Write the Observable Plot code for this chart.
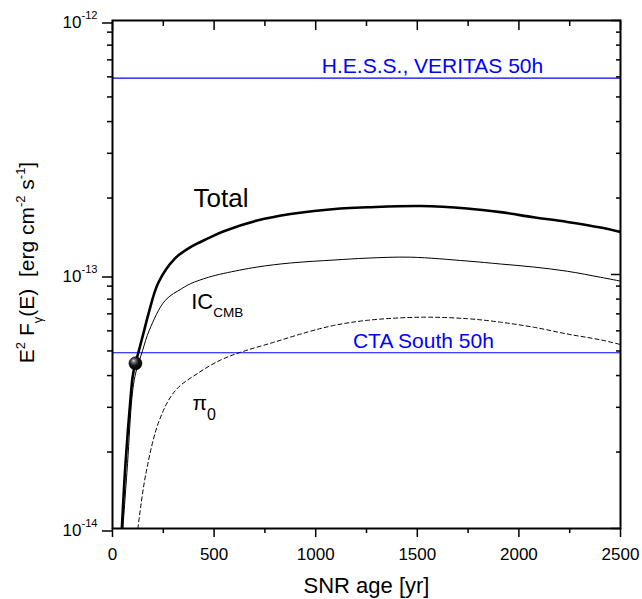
<!DOCTYPE html>
<html>
<head>
<meta charset="utf-8">
<script src="https://cdn.jsdelivr.net/npm/d3@7"></script>
<script src="https://cdn.jsdelivr.net/npm/@observablehq/plot@0.6"></script>
<style>
  html, body { margin: 0; padding: 0; background: #fff; }
  svg text { white-space: pre; }
</style>
</head>
<body>
<div id="chart"></div>
<script>
// ---- data ----
const ageTotal = [46, 64, 88, 100, 113, 130, 156, 177, 226, 309, 390, 472, 548, 712, 876, 1122, 1255, 1516, 1745, 1909, 2073, 2238, 2402, 2500];
const valTotal = [1.0e-14, 1.8e-14, 3.2e-14, 4.0e-14, 4.47e-14, 5.02e-14, 6.03e-14, 7.0e-14, 9.3e-14, 1.16e-13, 1.29e-13, 1.39e-13, 1.48e-13, 1.63e-13, 1.73e-13, 1.82e-13, 1.84e-13, 1.86e-13, 1.82e-13, 1.76e-13, 1.68e-13, 1.61e-13, 1.53e-13, 1.47e-13];

const ageIC = [51, 74, 96, 113, 148, 181, 259, 341, 384, 472, 548, 712, 876, 1089, 1253, 1467, 1745, 1909, 2073, 2238, 2402, 2500];
const valIC = [1.0e-14, 1.8e-14, 3.29e-14, 4.06e-14, 5.02e-14, 6.03e-14, 7.9e-14, 8.8e-14, 9.2e-14, 9.75e-14, 1.01e-13, 1.07e-13, 1.11e-13, 1.14e-13, 1.16e-13, 1.17e-13, 1.13e-13, 1.10e-13, 1.07e-13, 1.03e-13, 9.75e-14, 9.42e-14];

const agePi = [125, 164, 230, 309, 423, 531, 630, 794, 958, 1089, 1253, 1516, 1745, 1909, 2073, 2238, 2402, 2500];
const valPi = [1.0e-14, 1.64e-14, 2.66e-14, 3.49e-14, 4.1e-14, 4.6e-14, 4.94e-14, 5.41e-14, 5.93e-14, 6.3e-14, 6.6e-14, 6.79e-14, 6.7e-14, 6.49e-14, 6.2e-14, 5.83e-14, 5.53e-14, 5.3e-14];

const sensitivityNames = ["H.E.S.S., VERITAS 50h", "CTA South 50h"];
const sensitivityLevels = [5.93e-13, 4.92e-14];
const sensitivityLabelAge = [1575, 1530];

const markerAge = [113];
const markerVal = [4.47e-14];

const curveLabels = ["Total", "IC_{CMB}", "π_{0}"];
const curveLabelAge = [534, 387, 394];
const curveLabelVal = [1.84e-13, 7.33e-14, 2.92e-14];

const xLabel = "SNR age [yr]";
const yLabel = "E^{2} F_{γ}(E)  [erg cm^{-2} s^{-1}]";

const xMajor = [0, 500, 1000, 1500, 2000, 2500];
const xMinor = [250, 750, 1250, 1750, 2250];
const yMajor = [1e-14, 1e-13, 1e-12];
const yMinor = [2e-14, 3e-14, 4e-14, 5e-14, 6e-14, 7e-14, 8e-14, 9e-14,
                2e-13, 3e-13, 4e-13, 5e-13, 6e-13, 7e-13, 8e-13, 9e-13];

// ---- tables ----
const rows = (a, v) => a.map((d, i) => ({age: d, flux: v[i]}));
const total = rows(ageTotal, valTotal);
const ic = rows(ageIC, valIC);
const pi0 = rows(agePi, valPi);
const marker = rows(markerAge, markerVal);
const sens = sensitivityNames.map((n, i) => ({name: n, flux: sensitivityLevels[i], age: sensitivityLabelAge[i]}));
const lab = curveLabels.map((n, i) => ({name: n, age: curveLabelAge[i], flux: curveLabelVal[i]}));

const blue = "#0000ff";

const chart = Plot.plot({
  width: 642,
  height: 599,
  marginLeft: 112,
  marginRight: 22,
  marginTop: 20,
  marginBottom: 71,
  style: {fontFamily: "'Liberation Sans', Arial, sans-serif", fontSize: "17px", color: "black", background: "white", overflow: "visible"},
  x: {domain: [0, 2500]},
  y: {type: "log", domain: [1e-14, 1e-12]},
  marks: [
    Plot.ruleY(sens, {y: "flux", stroke: blue, strokeWidth: 1.2}),
    Plot.line(ic, {x: "age", y: "flux", stroke: "black", strokeWidth: 1, curve: "catmull-rom", clip: true}),
    Plot.line(pi0, {x: "age", y: "flux", stroke: "black", strokeWidth: 1, strokeDasharray: "4,3", curve: "catmull-rom", clip: true}),
    Plot.line(total, {x: "age", y: "flux", stroke: "black", strokeWidth: 2.6, curve: "catmull-rom", clip: true}),
    Plot.dot(marker, {x: "age", y: "flux", r: 6.5, fill: "url(#ballGrad)", stroke: "#000", strokeWidth: 0.6}),
    Plot.text(sens, {x: "age", y: "flux", text: "name", fill: blue, fontSize: 21, dy: -5, lineAnchor: "bottom", textAnchor: "middle"}),
    Plot.text(lab.slice(0, 1), {x: "age", y: "flux", text: "name", fontSize: 26, lineAnchor: "bottom", textAnchor: "middle"}),
    Plot.text(lab.slice(1, 2), {x: "age", y: "flux", text: "name", fontSize: 22, lineAnchor: "bottom", textAnchor: "start"}),
    Plot.text(lab.slice(2, 3), {x: "age", y: "flux", text: "name", fontSize: 21, lineAnchor: "bottom", textAnchor: "start"}),
    // axes
    Plot.axisX({anchor: "bottom", ticks: xMajor, tickSize: 9, tickPadding: 10, strokeWidth: 1.5, tickFormat: d => String(d), label: null}),
    Plot.axisX({anchor: "bottom", ticks: xMinor, tickSize: 5, strokeWidth: 1.5, fill: "none", label: null}),
    Plot.axisX({anchor: "top", ticks: xMajor, tickSize: -9, strokeWidth: 1.5, fill: "none", label: null}),
    Plot.axisX({anchor: "top", ticks: xMinor, tickSize: -5, strokeWidth: 1.5, fill: "none", label: null}),
    Plot.axisY({anchor: "left", ticks: yMajor, tickSize: 10, tickPadding: 5, strokeWidth: 1.5, dy: 2.5,
                tickFormat: d => `10^{${Math.round(Math.log10(d))}}`, label: null}),
    Plot.axisY({anchor: "left", ticks: yMinor, tickSize: 5, strokeWidth: 1.5, fill: "none", label: null}),
    Plot.axisY({anchor: "right", ticks: yMajor, tickSize: -10, strokeWidth: 1.5, fill: "none", label: null}),
    Plot.axisY({anchor: "right", ticks: yMinor, tickSize: -5, strokeWidth: 1.5, fill: "none", label: null}),
    Plot.frame({stroke: "black", strokeWidth: 2}),
    // axis titles
    Plot.text([xLabel], {frameAnchor: "bottom", dy: 64, lineAnchor: "bottom", textAnchor: "middle", fontSize: 22}),
    Plot.text([yLabel], {frameAnchor: "left", rotate: -90, dx: -85, dy: -12, lineAnchor: "middle", textAnchor: "middle", fontSize: 21})
  ]
});

document.getElementById("chart").appendChild(chart);

// tick label size
chart.querySelectorAll('g[aria-label="x-axis tick label"], g[aria-label="y-axis tick label"]').forEach(g => {
  g.setAttribute("font-size", "17");
  g.style.fontSize = "17px";
  g.querySelectorAll("text").forEach(t => { t.style.fontSize = "17px"; });
});

// ---- rich text: ^{..} superscripts and _{..} subscripts ----
function richText(el) {
  const str = el.textContent;
  if (!/[\^_]\{/.test(str)) return;
  const fs = parseFloat(getComputedStyle(el).fontSize) || 17;
  const isTick = /^10\^\{/.test(str);
  const isPi = /^π_/.test(str);
  const supShift = isTick ? -0.55 * fs : -0.42 * fs;
  const subShift = isPi ? 0.48 * fs : 0.36 * fs;
  const scale = isTick ? 0.65 : isPi ? 0.76 : 0.62;
  const sel = d3.select(el);
  sel.text(null);
  let cur = 0;
  const add = (t, kind) => {
    if (!t) return;
    const target = kind === "^" ? supShift : kind === "_" ? subShift : 0;
    const ts = sel.append("tspan").text(t);
    if (target !== cur) { ts.attr("dy", (target - cur).toFixed(2)); cur = target; }
    if (kind) ts.style("font-size", (fs * scale).toFixed(1) + "px");
  };
  const re = /([\^_])\{([^}]*)\}/g;
  let last = 0, m;
  while ((m = re.exec(str))) {
    add(str.slice(last, m.index), null);
    add(m[2], m[1]);
    last = re.lastIndex;
  }
  add(str.slice(last), null);
}
chart.querySelectorAll("text").forEach(richText);

// sphere gradient for the marker
const defs = d3.select(chart).insert("defs", ":first-child");
const g = defs.append("radialGradient").attr("id", "ballGrad")
  .attr("cx", "40%").attr("cy", "35%").attr("r", "65%").attr("fx", "35%").attr("fy", "30%");
g.append("stop").attr("offset", "0%").attr("stop-color", "#e0e0e0");
g.append("stop").attr("offset", "22%").attr("stop-color", "#707070");
g.append("stop").attr("offset", "55%").attr("stop-color", "#141414");
g.append("stop").attr("offset", "100%").attr("stop-color", "#000");
</script>
</body>
</html>
